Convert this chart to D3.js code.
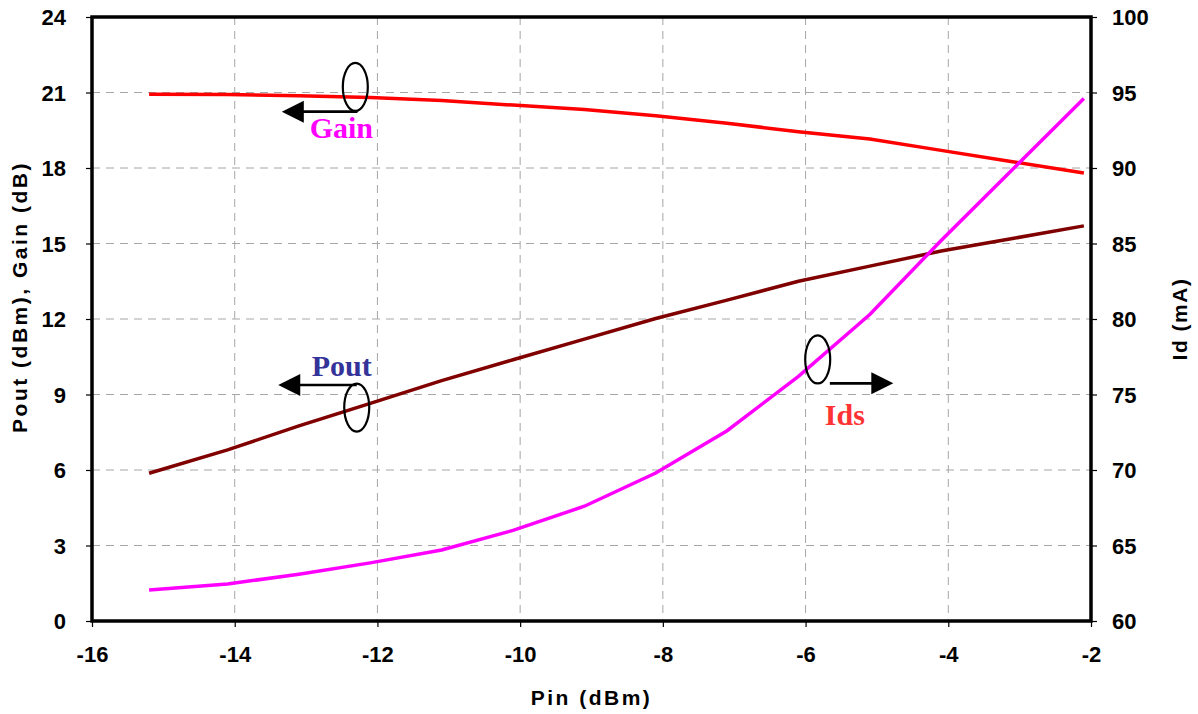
<!DOCTYPE html>
<html>
<head>
<meta charset="utf-8">
<script src="https://cdn.jsdelivr.net/npm/d3@7/dist/d3.min.js"></script>
<style>
  body { margin: 0; background: #fff; }
  svg text { font-family: "Liberation Sans", Arial, sans-serif; font-weight: bold; }
</style>
</head>
<body>
<div id="chart"></div>
<script>
// Daten
var pin   = [-15.2, -14.1, -13.1, -12.1, -11.1, -10.1, -9.1, -8.1, -7.1, -6.1, -5.1, -4.1, -3.1, -2.1];
var gain  = [20.93, 20.92, 20.87, 20.8, 20.68, 20.5, 20.32, 20.08, 19.78, 19.44, 19.15, 18.7, 18.25, 17.8];
var pout  = [5.87, 6.8, 7.75, 8.65, 9.55, 10.38, 11.2, 12.02, 12.75, 13.5, 14.1, 14.7, 15.2, 15.7];
var ids   = [62.05, 62.45, 63.1, 63.85, 64.7, 66.0, 67.6, 69.8, 72.6, 76.2, 80.3, 85.2, 89.9, 94.6];
var xTicks  = [-16, -14, -12, -10, -8, -6, -4, -2];
var yTicks  = [0, 3, 6, 9, 12, 15, 18, 21, 24];
var y2Ticks = [60, 65, 70, 75, 80, 85, 90, 95, 100];

var width = 1198, height = 714;
var margin = {top: 17, right: 107, bottom: 93, left: 92};
var w = width - margin.left - margin.right;
var h = height - margin.top - margin.bottom;

var svg = d3.select("#chart").append("svg")
    .attr("width", width)
    .attr("height", height);

var g = svg.append("g")
    .attr("transform", "translate(" + margin.left + "," + margin.top + ")");

var x  = d3.scaleLinear().domain([-16, -2]).range([0, w]);
var y  = d3.scaleLinear().domain([0, 24]).range([h, 0]);
var y2 = d3.scaleLinear().domain([60, 100]).range([h, 0]);

// Gitter
g.append("g")
    .selectAll("line").data(xTicks.slice(1, -1)).enter().append("line")
    .attr("x1", d => x(d)).attr("x2", d => x(d))
    .attr("y1", 0).attr("y2", h)
    .attr("stroke", "#a6a6a6").attr("stroke-width", 1)
    .attr("stroke-dasharray", "8,6");

g.append("g")
    .selectAll("line").data(yTicks.slice(1, -1)).enter().append("line")
    .attr("x1", 0).attr("x2", w)
    .attr("y1", d => y(d)).attr("y2", d => y(d))
    .attr("stroke", "#a6a6a6").attr("stroke-width", 1)
    .attr("stroke-dasharray", "8,6");

// Achsen
var fmt = d => String(d);

var xAxis = g.append("g")
    .attr("transform", "translate(0," + h + ")")
    .call(d3.axisBottom(x).tickValues(xTicks).tickFormat(fmt).tickSize(6).tickPadding(19));

var yAxis = g.append("g")
    .call(d3.axisLeft(y).tickValues(yTicks).tickFormat(fmt).tickSize(6).tickPadding(20));

var y2Axis = g.append("g")
    .attr("transform", "translate(" + w + ",0)")
    .call(d3.axisRight(y2).tickValues(y2Ticks).tickFormat(fmt).tickSize(6).tickPadding(15));

[xAxis, yAxis, y2Axis].forEach(function(a) {
    a.select(".domain").remove();
    a.selectAll(".tick line").attr("stroke", "#000").attr("stroke-width", 1.2);
    a.selectAll(".tick text")
        .attr("fill", "#000")
        .style("font-size", "22px")
        .style("font-weight", "bold")
        .style("font-family", "'Liberation Sans', Arial, sans-serif");
});
yAxis.selectAll(".tick text").attr("dy", "0.36em");
y2Axis.selectAll(".tick text").attr("dy", "0.36em");

// Rahmen
g.append("rect")
    .attr("width", w).attr("height", h)
    .attr("fill", "none").attr("stroke", "#000").attr("stroke-width", 3.5);

// Linien
var line = function(vals, sc) {
    return d3.line().x((d, i) => x(pin[i])).y(d => sc(d))(vals);
};

g.append("path").attr("d", line(gain, y))
    .attr("fill", "none").attr("stroke", "#ff0000").attr("stroke-width", 3.5);
g.append("path").attr("d", line(pout, y))
    .attr("fill", "none").attr("stroke", "#800000").attr("stroke-width", 3.5);
g.append("path").attr("d", line(ids, y2))
    .attr("fill", "none").attr("stroke", "#ff00ff").attr("stroke-width", 3.5);

// Markierungen
function ellipse(cx, cy) {
    g.append("ellipse")
        .attr("cx", cx).attr("cy", cy).attr("rx", 12.5).attr("ry", 24)
        .attr("fill", "none").attr("stroke", "#000").attr("stroke-width", 2.2);
}
function arrow(x0, x1, yy) {
    var dir = x1 < x0 ? 1 : -1;
    g.append("line")
        .attr("x1", x0).attr("x2", x1 + dir * 20).attr("y1", yy).attr("y2", yy)
        .attr("stroke", "#000").attr("stroke-width", 2.6);
    g.append("path")
        .attr("d", "M" + x1 + "," + yy + "L" + (x1 + dir * 22) + "," + (yy - 11) +
                   "L" + (x1 + dir * 22) + "," + (yy + 11) + "Z")
        .attr("fill", "#000");
}
function label(txt, lx, ly, col) {
    g.append("text").attr("x", lx).attr("y", ly).text(txt)
        .attr("fill", col)
        .style("font-family", "'Liberation Serif', 'Times New Roman', serif")
        .style("font-size", "30px").style("font-weight", "bold");
}

ellipse(x(-12.31), y(21.22));
arrow(x(-12.28), x(-13.34), y(20.24));
label("Gain", x(-12.95), y(19.19), "#ff00ff");

ellipse(x(-12.29), y(8.48));
arrow(x(-12.29), x(-13.39), y(9.38));
label("Pout", x(-12.92), y(9.75), "#333399");

ellipse(x(-5.83), y2(77.32));
arrow(x(-5.66), x(-4.77), y2(75.74));
label("Ids", x(-5.73), y2(72.98), "#ff3333");

// Achsentitel
svg.append("text")
    .attr("x", margin.left + w / 2).attr("y", 705)
    .attr("text-anchor", "middle")
    .style("font-size", "21px").style("letter-spacing", "2.5px")
    .text("Pin (dBm)");

svg.append("text")
    .attr("transform", "translate(27," + (margin.top + h / 2 - 22) + ") rotate(-90)")
    .attr("text-anchor", "middle")
    .style("font-size", "21px").style("letter-spacing", "2.5px")
    .text("Pout (dBm), Gain (dB)");

svg.append("text")
    .attr("transform", "translate(1187," + (margin.top + h / 2) + ") rotate(-90)")
    .attr("text-anchor", "middle")
    .style("font-size", "21px").style("letter-spacing", "1.5px")
    .text("Id (mA)");
</script>
</body>
</html>
